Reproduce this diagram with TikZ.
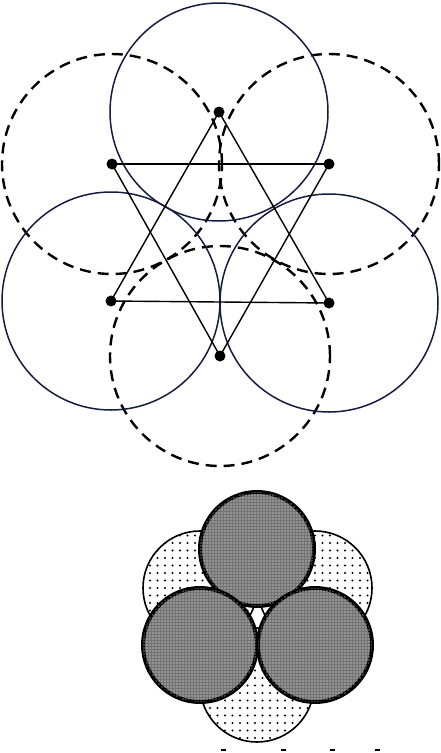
\documentclass[tikz,border=0pt]{standalone}
\usetikzlibrary{patterns.meta}
\definecolor{ringblue}{RGB}{20,30,60}

\begin{document}
\begin{tikzpicture}[
    x=1pt, y=-1pt,
    solidring/.style={draw=ringblue, line width=1.5pt},
    dashring/.style={draw=black, line width=2.4pt, dash pattern=on 11pt off 7pt},
    centre/.style={circle, fill=black, inner sep=0pt, minimum size=11pt},
    side/.style={draw=black, line width=1.4pt},
    darkdisc/.style={fill=black!55, draw=black, line width=4pt, postaction={pattern={Dots[distance=3pt, radius=0.7pt]}, pattern color=white}},
    lightdisc/.style={fill=white, draw=black, line width=1.6pt, postaction={pattern={Dots[distance=7.5pt, radius=1.1pt]}, pattern color=black}},
    notch/.style={fill=black}
]
    \useasboundingbox (0,0) rectangle (441,753);

    % Centres
    \node[centre] (top) at (219,112) {};
    \node[centre] (upleft) at (112,164) {};
    \node[centre] (upright) at (329,164) {};
    \node[centre] (lowleft) at (111,301) {};
    \node[centre] (lowright) at (329,303) {};
    \node[centre] (bottom) at (220,356) {};

    % Dashed circles
    \draw[dashring] (upleft) circle[radius=110pt];
    \draw[dashring] (upright) circle[radius=110pt];
    \draw[dashring] (bottom) circle[radius=110pt];

    % Solid circles
    \draw[solidring] (top) circle[radius=109pt];
    \draw[solidring] (lowleft) circle[radius=109pt];
    \draw[solidring] (lowright) circle[radius=109pt];

    % Triangles
    \draw[side] (top.center) -- (lowleft.center);
    \draw[side] (lowleft.center) -- (lowright.center);
    \draw[side] (lowright.center) -- (top.center);
    \draw[side] (upleft.center) -- (upright.center);
    \draw[side] (upright.center) -- (bottom.center);
    \draw[side] (bottom.center) -- (upleft.center);

    % Packed discs
    \draw[lightdisc] (200,588) circle[radius=57pt];
    \draw[lightdisc] (315,588) circle[radius=57pt];
    \draw[lightdisc] (257,685) circle[radius=57pt];
    \draw[darkdisc] (257,549) circle[radius=57pt];
    \draw[darkdisc] (200,645) circle[radius=57pt];
    \draw[darkdisc] (315,645) circle[radius=57pt];

    % Marks
    \fill[notch] (221,749) rectangle (226,751);
    \fill[notch] (281,749) rectangle (286,751);
    \fill[notch] (330,749) rectangle (335,751);
    \fill[notch] (375,749) rectangle (380,751);

\end{tikzpicture}
\end{document}
